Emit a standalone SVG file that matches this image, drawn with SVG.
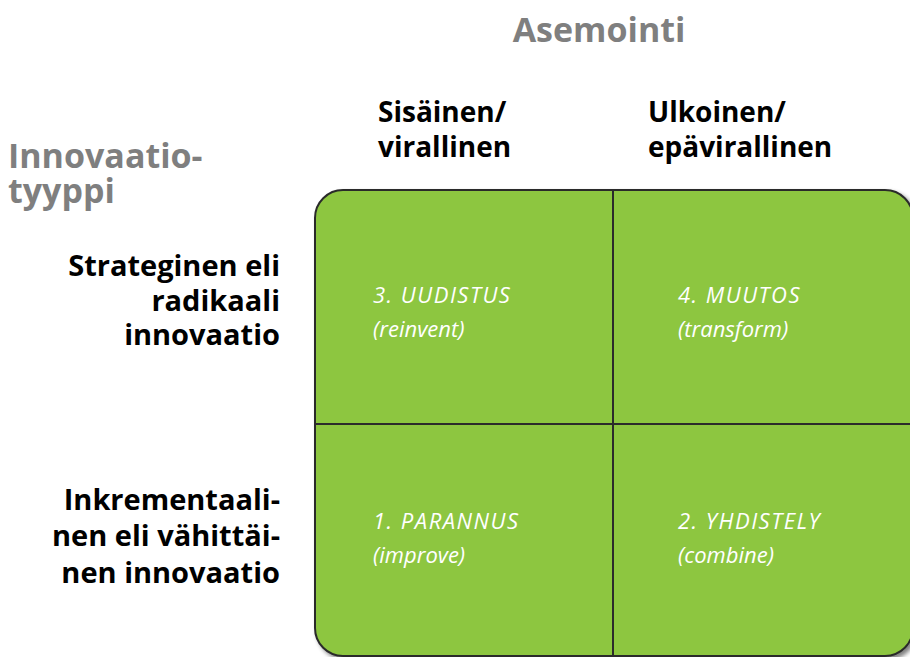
<svg xmlns="http://www.w3.org/2000/svg" width="910" height="657" viewBox="0 0 910 657">
<style>
.gray{font-family:"Open Sans","Liberation Sans",sans-serif;font-weight:bold;fill:#7f7f7f;font-size:34px}
.hdr{font-family:"Open Sans","Liberation Sans",sans-serif;font-weight:bold;fill:#000;font-size:28px}
.row{font-family:"Open Sans","Liberation Sans",sans-serif;font-weight:bold;fill:#000;font-size:29px;text-anchor:end}
.q{font-family:"Open Sans","Liberation Sans",sans-serif;font-style:italic;fill:#fff;font-size:22px}
.qt{letter-spacing:1.5px}
.div{stroke:#2b2b2b;stroke-width:2;fill:none}
</style>
<defs>
<filter id="sh" x="-5%" y="-5%" width="115%" height="115%">
<feGaussianBlur in="SourceAlpha" stdDeviation="2"/>
<feOffset dx="3" dy="3"/>
<feComponentTransfer><feFuncA type="linear" slope="0.5"/></feComponentTransfer>
<feMerge><feMergeNode/><feMergeNode in="SourceGraphic"/></feMerge>
</filter>
</defs>
<g id="title-asemointi"><text class="gray" x="599" y="42" text-anchor="middle" font-size="35">Asemointi</text></g>
<g id="title-innovaatiotyyppi"><text class="gray" x="8" y="168">Innovaatio-</text><text class="gray" x="8" y="203">tyyppi</text></g>
<g id="col-sisainen"><text class="hdr" x="378" y="122">Sisäinen/</text><text class="hdr" x="378" y="157">virallinen</text></g>
<g id="col-ulkoinen"><text class="hdr" x="648" y="122">Ulkoinen/</text><text class="hdr" x="648" y="157">epävirallinen</text></g>
<g id="row-strateginen"><text class="row" x="280" y="276">Strateginen eli</text><text class="row" x="280" y="311">radikaali</text><text class="row" x="280" y="345">innovaatio</text></g>
<g id="row-inkrementaalinen"><text class="row" x="280" y="510">Inkrementaali-</text><text class="row" x="280" y="546">nen eli vähittäi-</text><text class="row" x="280" y="583">nen innovaatio</text></g>
<g id="matrix">
<rect x="315" y="190" width="598" height="466" rx="28" ry="28" fill="#8dc63f" stroke="#2b2b2b" stroke-width="2" filter="url(#sh)"/>
</g>
<g id="connectors">
<line class="div" x1="613" y1="190" x2="613" y2="656"/>
<line class="div" x1="315" y1="424" x2="913" y2="424"/>
</g>
<g id="q3"><text class="q qt" x="373" y="303">3. UUDISTUS</text><text class="q" x="373" y="337">(reinvent)</text></g>
<g id="q4"><text class="q qt" x="678" y="303">4. MUUTOS</text><text class="q" x="678" y="337">(transform)</text></g>
<g id="q1"><text class="q qt" x="373" y="529">1. PARANNUS</text><text class="q" x="373" y="563">(improve)</text></g>
<g id="q2"><text class="q qt" x="678" y="529">2. YHDISTELY</text><text class="q" x="678" y="563">(combine)</text></g>
</svg>
